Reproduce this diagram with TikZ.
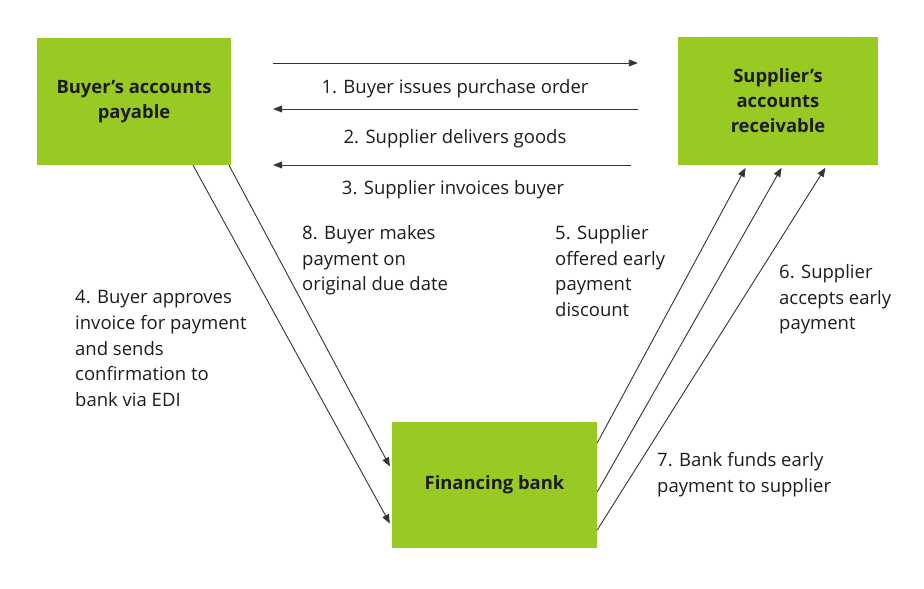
\documentclass[tikz,border=0pt]{standalone}
\usepackage{fontspec}
\setmainfont{Open Sans}
\usetikzlibrary{arrows.meta}
\definecolor{leafgreen}{RGB}{153,202,36}
\definecolor{inkgrey}{RGB}{30,27,28}

\begin{document}
\begin{tikzpicture}[x=1pt, y=-1pt, font=\fontsize{18.5}{25.8}\selectfont, text=inkgrey,
    box/.style={fill=leafgreen, inner sep=0pt, align=center, font=\fontsize{18.4}{25}\selectfont\bfseries},
    note/.style={inner sep=0pt, align=left, anchor=north west},
    flow/.style={draw=inkgrey!90, line width=0.9pt, -{Triangle[length=9pt,width=7pt]}}]
    \useasboundingbox (0,0) rectangle (924,589);
    \node (buyer) [box, minimum width=194pt, minimum height=127pt] at (134,101.5) {Buyer’s accounts\\payable};
    \node (supplier) [box, minimum width=200pt, minimum height=128pt] at (778,101) {Supplier’s\\accounts\\receivable};
    \node (bank) [box, minimum width=205pt, minimum height=126pt] at (494.5,485) {Financing bank};
    \draw [flow, shorten <=42pt, shorten >=40pt] (buyer.east |- 0,63) -- (supplier.west |- 0,63);
    \draw [flow, shorten <=40pt, shorten >=42pt] (supplier.west |- 0,109) -- (buyer.east |- 0,109);
    \draw [flow, shorten <=47pt, shorten >=42pt] (supplier.west |- 0,165) -- (buyer.east |- 0,165);
    \node (order) at (455,89) {1. Buyer issues purchase order};
    \node (goods) at (455,139) {2. Supplier delivers goods};
    \node (invoice) at (453,190) {3. Supplier invoices buyer};
    \draw [flow, shorten >=4pt] ([xshift=59pt]buyer.south) -- ([yshift=-42pt]bank.west);
    \draw [flow, shorten >=4pt] ([xshift=95pt]buyer.south) -- ([yshift=15pt]bank.west);
    \draw [flow, shorten >=3pt] ([yshift=42pt]bank.east) -- ([xshift=-31pt]supplier.south);
    \draw [flow, shorten >=3pt] ([yshift=-7pt]bank.east) -- ([xshift=5pt]supplier.south);
    \draw [flow, shorten >=3pt] ([yshift=-45pt]bank.east) -- ([xshift=49pt]supplier.south);
    \node (approve) [note] at (75,290) {4. Buyer approves\\invoice for payment\\and sends\\confirmation to\\bank via EDI};
    \node (repay) [note] at (302,225) {8. Buyer makes\\payment on\\original due date};
    \node (offer) [note] at (555,225) {5. Supplier\\offered early\\payment\\discount};
    \node (accept) [note] at (779,264) {6. Supplier\\accepts early\\payment};
    \node (fund) [note] at (657,452) {7. Bank funds early\\payment to supplier};
\end{tikzpicture}
\end{document}
